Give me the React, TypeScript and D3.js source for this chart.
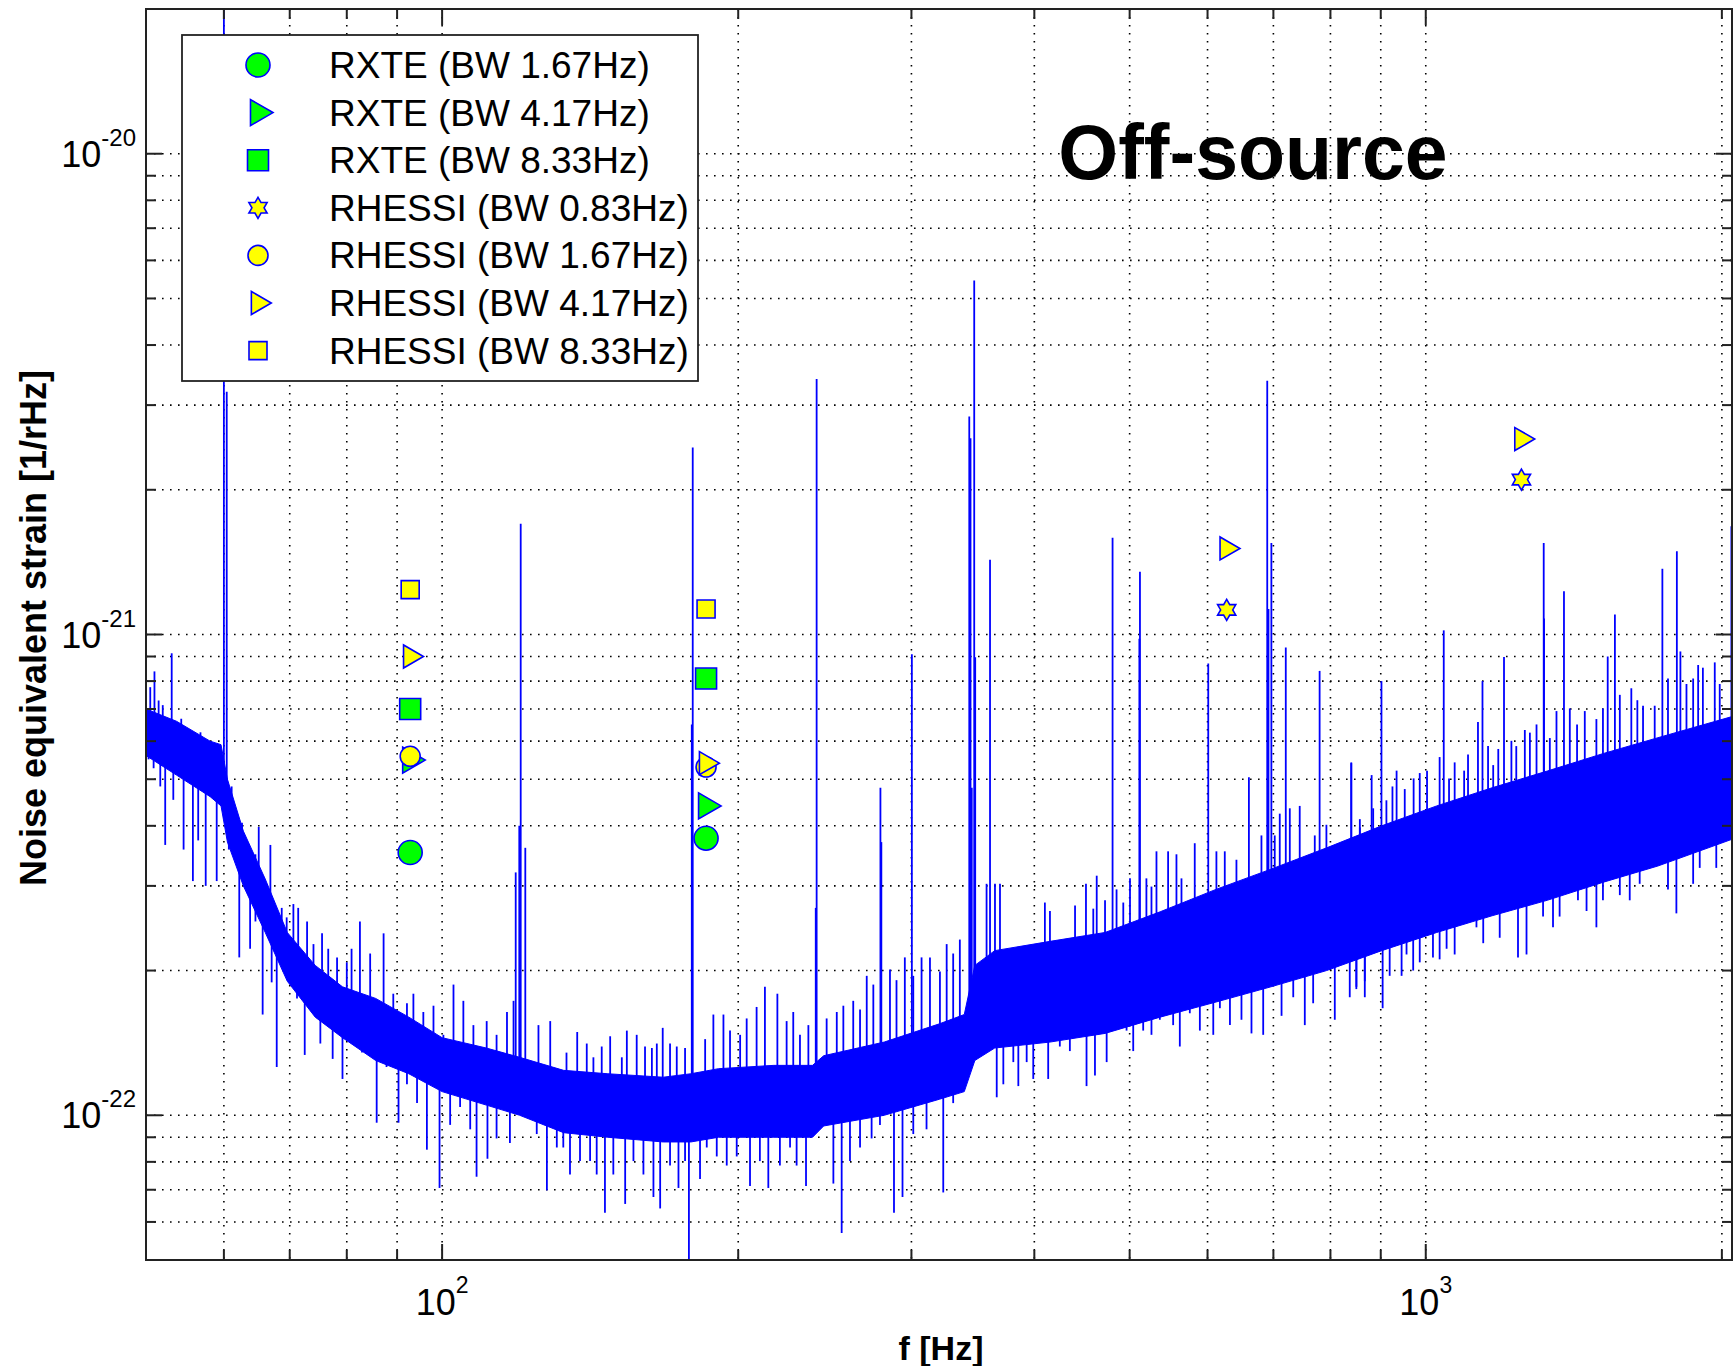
import React from "react";
import * as d3 from "d3";

// ---------- Data ----------
// Dense core of the off-source noise spectrum: frequency (Hz), upper and lower edge (1/rHz)
const bandFreq = [50, 53.7, 58.1, 59.6, 60.5, 62.8, 66.1, 69.6, 74.3, 79.2, 85.6, 92.5, 100, 110.9, 119.9, 132.9, 147.4, 167.8, 179, 191, 217.4, 238, 244.3, 281.5, 320.4, 339.5, 348, 364.6, 415, 472, 537, 612, 696, 793, 902, 1026, 1168, 1329, 1513, 1722, 2048];
const bandHigh = [7.0e-22, 6.6e-22, 6.0e-22, 5.9e-22, 5.0e-22, 3.9e-22, 3.1e-22, 2.4e-22, 2.05e-22, 1.85e-22, 1.75e-22, 1.6e-22, 1.45e-22, 1.38e-22, 1.32e-22, 1.24e-22, 1.22e-22, 1.2e-22, 1.22e-22, 1.25e-22, 1.27e-22, 1.27e-22, 1.33e-22, 1.42e-22, 1.55e-22, 1.62e-22, 2.05e-22, 2.2e-22, 2.3e-22, 2.4e-22, 2.65e-22, 2.95e-22, 3.25e-22, 3.6e-22, 4.0e-22, 4.4e-22, 4.8e-22, 5.2e-22, 5.65e-22, 6.1e-22, 6.75e-22];
const bandLow = [5.6e-22, 5.1e-22, 4.6e-22, 4.4e-22, 3.7e-22, 3.0e-22, 2.4e-22, 1.9e-22, 1.6e-22, 1.45e-22, 1.3e-22, 1.22e-22, 1.12e-22, 1.05e-22, 1.0e-22, 9.2e-23, 9.0e-23, 8.8e-23, 8.8e-23, 9.0e-23, 9.0e-23, 9.0e-23, 9.5e-23, 1.0e-22, 1.08e-22, 1.12e-22, 1.3e-22, 1.38e-22, 1.42e-22, 1.48e-22, 1.6e-22, 1.72e-22, 1.85e-22, 2.0e-22, 2.2e-22, 2.4e-22, 2.6e-22, 2.8e-22, 3.05e-22, 3.3e-22, 3.75e-22];

// Noise excursions above the dense core: frequency (Hz) and tip value
const upperFreq = [
  50.5, 51.0, 51.5, 52.0, 53.1, 53.8, 54.3, 55.0, 55.9, 56.8, 57.7, 58.6, 59.5, 60.5, 61.1, 61.8, 62.6, 63.6, 64.6, 65.1,
  66.1, 66.9, 67.9, 68.7, 69.5, 70.6, 71.4, 72.9, 74.0, 75.5, 76.6, 78.2, 80.0, 80.9, 82.5, 84.5, 87.2, 89.2, 92.1, 93.5,
  95.7, 98.0, 100.3, 102.7, 105.1, 107.6, 111.0, 113.6, 116.4, 118.2, 125.3, 128.8,
  133.8, 137.2, 140.3, 142.5, 145.3, 148.2, 152.3, 154.1, 157.7, 160.8, 163.4, 165.3, 167.6, 170.5, 173.2, 176.6, 185.1, 188.7,
  193.2, 196.2, 200.9, 204, 208.8, 212.9, 219.2, 224, 227.5, 231.1, 235.7, 246, 251.9, 255.8, 261.8, 266, 270.2, 274.4,
  285.3, 289.7, 295.4, 301.3, 307.2, 313.3, 320.7, 325.8, 330.8, 336,
  357.7, 364.8, 369.1, 410, 414.9, 440, 451.4, 459.2, 462.9, 472, 484.9, 492.6, 500.4, 520, 526.2, 532.4, 547.1, 557.9,
  564.5, 582.3, 612.6, 624.7, 642, 680.7, 702.2, 710.5, 727.4, 744.5, 771.2, 792.5, 857, 884.2,
  840, 857, 912, 925, 934, 952, 972, 986, 1003, 1033, 1056, 1070, 1094, 1104, 1130, 1157, 1171, 1185, 1222, 1236,
  1261, 1276, 1296, 1337, 1358, 1401, 1425, 1451, 1491, 1514, 1575, 1618, 1641, 1663, 1709, 1763, 1815, 1841, 1870, 1892,
  1913, 1967, 1990,
];
const upperVal = [
  7.77e-22, 8.38e-22, 7.29e-22, 7.13e-22, 9.14e-22, 6.26e-22, 6.68e-22, 5.87e-22, 6.0e-22, 6.26e-22, 5.62e-22, 5.16e-22, 5.74e-22, 4.94e-22, 4.83e-22, 3.98e-22, 4.06e-22, 3.65e-22, 3.49e-22, 3.98e-22,
  2.75e-22, 3.65e-22, 2.53e-22, 2.7e-22, 2.58e-22, 2.75e-22, 2.7e-22, 2.53e-22, 2.27e-22, 2.39e-22, 2.22e-22, 2.13e-22, 2.08e-22, 2.22e-22, 2.53e-22, 2.17e-22, 2.39e-22, 1.79e-22, 1.71e-22, 1.79e-22,
  1.64e-22, 1.69e-22, 1.47e-22, 1.87e-22, 1.73e-22, 1.54e-22, 1.57e-22, 1.47e-22, 1.64e-22, 1.73e-22, 1.54e-22, 1.57e-22,
  1.35e-22, 1.49e-22, 1.41e-22, 1.32e-22, 1.39e-22, 1.46e-22, 1.32e-22, 1.5e-22, 1.47e-22, 1.39e-22, 1.38e-22, 1.41e-22, 1.52e-22, 1.41e-22, 1.39e-22, 1.38e-22, 1.44e-22, 1.62e-22,
  1.62e-22, 1.5e-22, 1.47e-22, 1.59e-22, 1.68e-22, 1.85e-22, 1.79e-22, 1.57e-22, 1.64e-22, 1.47e-22, 1.54e-22, 1.59e-22, 1.64e-22, 1.69e-22, 1.73e-22, 1.66e-22, 1.95e-22, 1.87e-22,
  2.01e-22, 1.91e-22, 2.13e-22, 1.95e-22, 2.13e-22, 2.13e-22, 1.99e-22, 2.27e-22, 2.17e-22, 2.32e-22,
  3.03e-22, 3.03e-22, 3.03e-22, 2.77e-22, 2.66e-22, 2.73e-22, 3.03e-22, 2.69e-22, 3.15e-22, 2.8e-22, 2.95e-22, 2.77e-22, 3.11e-22, 3.11e-22, 2.99e-22, 3.54e-22, 3.54e-22, 3.49e-22,
  3.11e-22, 3.68e-22, 3.54e-22, 3.54e-22, 3.4e-22, 3.82e-22, 3.82e-22, 4.24e-22, 4.35e-22, 4.4e-22, 3.82e-22, 4.02e-22, 3.97e-22, 4.35e-22,
  5.42e-22, 4.13e-22, 4.52e-22, 4.83e-22, 5.21e-22, 4.77e-22, 5.02e-22, 5.15e-22, 5.21e-22, 5.56e-22, 5.02e-22, 5.42e-22, 5.21e-22, 5.63e-22, 6.58e-22, 5.86e-22, 5.35e-22, 5.78e-22, 6.01e-22, 5.86e-22,
  6.33e-22, 6.25e-22, 6.5e-22, 6.09e-22, 6.93e-22, 7.02e-22, 6.5e-22, 6.93e-22, 6.67e-22, 7.02e-22, 7.49e-22, 7.73e-22, 7.3e-22, 7.11e-22, 7.11e-22, 8.1e-22, 9.22e-22, 7.89e-22, 8.1e-22, 8.64e-22,
  8.53e-22, 8.75e-22, 7.89e-22,
];

// Noise excursions below the dense core: frequency (Hz) and tip value
const lowerFreq = [
  50.3, 50.9, 51.7, 52.3, 53.3, 54.6, 55.8, 56.5, 57.5, 59.0, 60.7, 62.2, 63.8, 64.6, 65.7, 67.1, 67.9, 69.5, 71.2, 72.5,
  73.7, 75.2, 77.4, 79.2, 81.3, 82.9, 85.8, 87.8, 90.3, 92.1, 94.3, 96.5, 99.4, 101.9, 104.3, 106.8, 108.4, 111.2, 113.6, 117.2,
  121.9, 124.8, 127.8, 130.8,
  132.8, 134.9, 138.1, 141.4, 143.6, 146.4, 149.3, 153.5, 156.5, 160.2, 164, 166.6, 170.5, 173.9, 176.6, 178.2, 182.9, 185.8, 190.2, 194.7,
  199.3, 205.6, 210.4, 214.6, 220.5, 225.8, 229.3, 234.4, 244.1, 249.9, 254.8, 259.8, 266, 273.3, 278.7, 288, 293.8, 301.3, 310.8, 323.2, 330.8,
  352.2, 360.6, 366.3, 372, 380.8, 385.3, 392.9, 399, 413.2, 424.6, 434.7, 441.6, 452, 461, 473.8, 496.4, 504.2, 516.1, 526.2, 536.6,
  553.6, 562.3, 575.6, 589.3, 608.1, 617.6, 632.3, 649.6, 665, 683.5, 713.5, 733.3, 753.4, 768.3, 808.2, 850.2, 867,
  837, 850, 867, 904, 919, 945, 956, 971, 986, 1017, 1033, 1050, 1070, 1104, 1126, 1144, 1166, 1189, 1241, 1266,
  1316, 1347, 1368, 1428, 1457, 1491, 1514, 1575, 1612, 1650, 1763, 1798, 1870, 1899, 1974, 2005,
];
const lowerVal = [
  5.5e-22, 5.27e-22, 4.83e-22, 3.65e-22, 4.53e-22, 3.57e-22, 3.07e-22, 3.73e-22, 3.0e-22, 3.07e-22, 3.57e-22, 2.13e-22, 2.22e-22, 2.53e-22, 1.62e-22, 1.89e-22, 1.26e-22, 2.03e-22, 1.75e-22, 1.335e-22,
  1.64e-22, 1.41e-22, 1.31e-22, 1.19e-22, 1.44e-22, 1.35e-22, 9.65e-23, 1.26e-22, 9.65e-23, 1.16e-22, 1.06e-22, 8.48e-23, 7.06e-23, 9.55e-23, 1.04e-22, 9.35e-23, 7.45e-23, 8.12e-23, 8.95e-23, 8.76e-23,
  1.06e-22, 9.14e-23, 6.98e-23, 8.57e-23,
  8.57e-23, 7.53e-23, 8.03e-23, 8.03e-23, 7.53e-23, 6.27e-23, 7.53e-23, 6.54e-23, 8.03e-23, 7.53e-23, 6.76e-23, 6.4e-23, 7.86e-23, 7.06e-23, 8.03e-23, 4.0e-23, 7.37e-23, 8.57e-23, 8.21e-23, 7.86e-23,
  8.21e-23, 7.13e-23, 8.03e-23, 7.06e-23, 7.86e-23, 8.57e-23, 7.86e-23, 7.13e-23, 9.55e-23, 7.21e-23, 5.69e-23, 8.03e-23, 8.57e-23, 8.95e-23, 9.55e-23, 6.27e-23, 6.76e-23, 9.14e-23, 9.35e-23, 6.91e-23, 1.06e-22,
  1.36e-22, 1.39e-22, 1.09e-22, 1.16e-22, 1.29e-22, 1.15e-22, 1.29e-22, 1.19e-22, 1.19e-22, 1.39e-22, 1.36e-22, 1.5e-22, 1.15e-22, 1.21e-22, 1.29e-22, 1.5e-22, 1.36e-22, 1.5e-22, 1.47e-22, 1.58e-22,
  1.54e-22, 1.39e-22, 1.63e-22, 1.5e-22, 1.47e-22, 1.67e-22, 1.54e-22, 1.58e-22, 1.48e-22, 1.47e-22, 1.61e-22, 1.76e-22, 1.54e-22, 1.71e-22, 1.58e-22, 1.85e-22, 1.76e-22,
  1.76e-22, 1.83e-22, 1.9e-22, 1.67e-22, 1.95e-22, 1.95e-22, 2.16e-22, 2.0e-22, 2.08e-22, 2.13e-22, 2.11e-22, 2.22e-22, 2.16e-22, 2.53e-22, 2.46e-22, 2.28e-22, 2.63e-22, 2.34e-22, 2.13e-22, 2.16e-22,
  2.59e-22, 2.46e-22, 2.59e-22, 2.8e-22, 2.66e-22, 2.46e-22, 2.8e-22, 2.87e-22, 2.8e-22, 3.03e-22, 2.95e-22, 2.63e-22, 3.03e-22, 3.27e-22, 3.27e-22, 3.72e-22,
];

// Narrow spectral lines: frequency (Hz) and peak value
const lineFreq = [60.0, 60.4, 118.8, 119.8, 120.2, 121.5, 179.4, 179.8, 239.8, 240.3, 279, 279.6, 300.3, 343.5, 344.5, 345.5, 347.5, 348.3, 360.6, 480.4, 511.5, 512.2, 601, 661, 690, 692, 696.7, 720.6, 780, 840, 881, 901.5, 1043, 1142, 1201, 1318, 1319, 1382, 1531, 1557, 1740, 1800, 2045];
const linePeak = [3e-20, 3.2e-21, 3.2e-22, 4.0e-22, 1.7e-21, 3.6e-22, 6.5e-22, 2.45e-21, 2.7e-22, 3.4e-21, 4.8e-22, 3.7e-22, 9.1e-22, 2.84e-21, 2.56e-21, 4.8e-22, 5.45e-21, 8.97e-22, 1.43e-21, 1.59e-21, 9.8e-22, 1.35e-21, 8.7e-22, 5.05e-22, 3.37e-21, 1.13e-21, 1.55e-21, 9.4e-22, 8.4e-22, 5.4e-22, 5.1e-22, 8.0e-22, 1.02e-21, 8.0e-22, 8.98e-22, 1.55e-21, 1.08e-21, 1.23e-21, 9.0e-22, 1.1e-21, 1.37e-21, 1.49e-21, 1.68e-21];

// Upper-limit markers
const rxteCircleFreq = [92.8, 185.5];
const rxteCircleVal = [3.52e-22, 3.77e-22];
const rxteTriFreq = [92.8, 185.5];
const rxteTriVal = [5.48e-22, 4.4e-22];
const rxteSquareFreq = [92.8, 185.5];
const rxteSquareVal = [7.0e-22, 8.1e-22];
const rhessiStarFreq = [627.5, 1251];
const rhessiStarVal = [1.125e-21, 2.1e-21];
const rhessiCircleFreq = [92.8, 185.5];
const rhessiCircleVal = [5.58e-22, 5.3e-22];
const rhessiTriFreq = [92.8, 185.5, 627.5, 1251];
const rhessiTriVal = [9.0e-22, 5.4e-22, 1.51e-21, 2.55e-21];
const rhessiSquareFreq = [92.8, 185.5];
const rhessiSquareVal = [1.24e-21, 1.13e-21];

const legendLabels = [
  "RXTE (BW 1.67Hz)",
  "RXTE (BW 4.17Hz)",
  "RXTE (BW 8.33Hz)",
  "RHESSI (BW 0.83Hz)",
  "RHESSI (BW 1.67Hz)",
  "RHESSI (BW 4.17Hz)",
  "RHESSI (BW 8.33Hz)",
];

const xMajor = [100, 1000];
const xMajorExp = ["2", "3"];
const yMajor = [1e-22, 1e-21, 1e-20];
const yMajorExp = ["-22", "-21", "-20"];

// ---------- Layout ----------
const W = 1733;
const H = 1366;
const X0 = 146;
const X1 = 1732;
const Y0 = 9;
const Y1 = 1260;
const FONT = "'Liberation Sans', Arial, Helvetica, sans-serif";
const BLUE = "#0000ff";
const GREEN = "#00ff00";
const YELLOW = "#ffff00";

type Shape = "circle" | "triangle" | "square" | "hexagram";

function markerPath(shape: Shape, s: number): string {
  if (shape === "triangle") {
    const h = s;
    const w = 0.866 * s;
    return `M${-w / 3},${-h / 2}L${-w / 3},${h / 2}L${(2 * w) / 3},0Z`;
  }
  if (shape === "square") {
    const a = s / 2;
    return `M${-a},${-a}L${a},${-a}L${a},${a}L${-a},${a}Z`;
  }
  if (shape === "hexagram") {
    const R = s / 2;
    const r = R / Math.sqrt(3);
    const pts: string[] = [];
    for (let k = 0; k < 12; k++) {
      const ang = -Math.PI / 2 + (k * Math.PI) / 6;
      const rad = k % 2 === 0 ? R : r;
      pts.push(`${(rad * Math.cos(ang)).toFixed(2)},${(rad * Math.sin(ang)).toFixed(2)}`);
    }
    return "M" + pts.join("L") + "Z";
  }
  const r = s / 2;
  return `M${r},0A${r},${r} 0 1,1 ${-r},0A${r},${r} 0 1,1 ${r},0Z`;
}

const series = [
  { shape: "circle" as Shape, fill: GREEN, size: 24, freq: rxteCircleFreq, val: rxteCircleVal },
  { shape: "triangle" as Shape, fill: GREEN, size: 26, freq: rxteTriFreq, val: rxteTriVal },
  { shape: "square" as Shape, fill: GREEN, size: 21, freq: rxteSquareFreq, val: rxteSquareVal },
  { shape: "hexagram" as Shape, fill: YELLOW, size: 21, freq: rhessiStarFreq, val: rhessiStarVal },
  { shape: "circle" as Shape, fill: YELLOW, size: 20, freq: rhessiCircleFreq, val: rhessiCircleVal },
  { shape: "triangle" as Shape, fill: YELLOW, size: 23, freq: rhessiTriFreq, val: rhessiTriVal },
  { shape: "square" as Shape, fill: YELLOW, size: 18, freq: rhessiSquareFreq, val: rhessiSquareVal },
];

export default function App() {
  const x = d3.scaleLog().domain([50, 2048]).range([X0, X1]);
  const y = d3.scaleLog().domain([5e-23, 2e-20]).range([Y1, Y0]);

  const area = d3
    .area<number>()
    .x((i) => x(bandFreq[i]))
    .y0((i) => y(bandLow[i]))
    .y1((i) => y(bandHigh[i]));
  const bandPath = area(bandFreq.map((_, i) => i)) || "";

  const bx = bandFreq.map((f) => x(f));
  const mid = d3
    .scaleLinear()
    .domain(bx)
    .range(bandFreq.map((_, i) => (y(bandHigh[i]) + y(bandLow[i])) / 2))
    .clamp(true);

  const xTicks = x.ticks().filter((t) => x(t) > X0 + 1 && x(t) < X1 - 1);
  const yTicks = y.ticks().filter((t) => y(t) > Y0 + 1 && y(t) < Y1 - 1);
  const isMajor = (t: number) => Math.abs(Math.log10(t) - Math.round(Math.log10(t))) < 1e-6;

  const dash = "1.6 6.4";

  const legendX = 182;
  const legendY = 35;
  const legendW = 516;
  const legendH = 346;
  const rowStep = 47.6;

  const spike = (f: number, v: number, key: string) => (
    <line key={key} x1={x(f)} x2={x(f)} y1={mid(x(f))} y2={y(v)} stroke={BLUE} strokeWidth={1.8} />
  );

  return (
    <svg
      width={W}
      height={H}
      viewBox={`0 0 ${W} ${H}`}
      style={{ position: "absolute", left: 0, top: 0, display: "block", background: "#fff" }}
      fontFamily={FONT}
    >
      <defs>
        <clipPath id="plotClip">
          <rect x={X0} y={Y0} width={X1 - X0} height={Y1 - Y0} />
        </clipPath>
      </defs>
      <rect x={0} y={0} width={W} height={H} fill="#fff" />

      {/* grid */}
      <g stroke="#000" strokeWidth={1.6} strokeDasharray={dash} fill="none">
        {xTicks.map((t, i) => (
          <line key={"gx" + i} x1={x(t)} x2={x(t)} y1={Y0} y2={Y1} />
        ))}
        {yTicks.map((t, i) => (
          <line key={"gy" + i} x1={X0} x2={X1} y1={y(t)} y2={y(t)} />
        ))}
      </g>

      {/* spectrum */}
      <g clipPath="url(#plotClip)">
        <path d={bandPath} fill={BLUE} stroke={BLUE} strokeWidth={1} />
        {upperFreq.map((f, i) => spike(f, upperVal[i], "u" + i))}
        {lowerFreq.map((f, i) => spike(f, lowerVal[i], "l" + i))}
        {lineFreq.map((f, i) => spike(f, linePeak[i], "ln" + i))}
      </g>

      {/* markers */}
      <g>
        {series.map((s, si) =>
          s.freq.map((f, i) => (
            <path
              key={"m" + si + "-" + i}
              d={markerPath(s.shape, s.size)}
              transform={`translate(${x(f)},${y(s.val[i])})`}
              fill={s.fill}
              stroke={BLUE}
              strokeWidth={1.6}
            />
          ))
        )}
      </g>

      {/* axes frame and ticks */}
      <rect x={X0} y={Y0} width={X1 - X0} height={Y1 - Y0} fill="none" stroke="#222" strokeWidth={2} />
      <g stroke="#222" strokeWidth={2}>
        {xTicks.map((t, i) => {
          const len = isMajor(t) ? 16 : 10;
          return (
            <g key={"tx" + i}>
              <line x1={x(t)} x2={x(t)} y1={Y1} y2={Y1 - len} />
              <line x1={x(t)} x2={x(t)} y1={Y0} y2={Y0 + len} />
            </g>
          );
        })}
        {yTicks.map((t, i) => {
          const len = isMajor(t) ? 16 : 10;
          return (
            <g key={"ty" + i}>
              <line x1={X0} x2={X0 + len} y1={y(t)} y2={y(t)} />
              <line x1={X1} x2={X1 - len} y1={y(t)} y2={y(t)} />
            </g>
          );
        })}
      </g>

      {/* tick labels */}
      <g fill="#000">
        {xMajor.map((t, i) => (
          <text key={"lx" + i} x={x(t)} y={1315} textAnchor="middle" fontSize={36}>
            10
            <tspan fontSize={23} dy={-22}>
              {xMajorExp[i]}
            </tspan>
          </text>
        ))}
        {yMajor.map((t, i) => (
          <text key={"ly" + i} x={136} y={y(t) + 13} textAnchor="end" fontSize={36}>
            10
            <tspan fontSize={24} dy={-21}>
              {yMajorExp[i]}
            </tspan>
          </text>
        ))}
      </g>

      {/* axis titles */}
      <text x={941} y={1360} textAnchor="middle" fontSize={34} fontWeight="bold">
        f [Hz]
      </text>
      <text transform={`translate(46,628) rotate(-90)`} textAnchor="middle" fontSize={36} fontWeight="bold">
        Noise equivalent strain [1/rHz]
      </text>

      {/* annotation */}
      <text x={1253} y={179} textAnchor="middle" fontSize={77} fontWeight="bold">
        Off-source
      </text>

      {/* legend */}
      <g>
        <rect x={legendX} y={legendY} width={legendW} height={legendH} fill="#fff" stroke="#222" strokeWidth={1.8} />
        {series.map((s, i) => {
          const cy = legendY + 30 + i * rowStep;
          return (
            <g key={"lg" + i}>
              <path
                d={markerPath(s.shape, s.size)}
                transform={`translate(${258},${cy})`}
                fill={s.fill}
                stroke={BLUE}
                strokeWidth={1.6}
              />
              <text x={329} y={cy + 13} fontSize={37} fill="#000">
                {legendLabels[i]}
              </text>
            </g>
          );
        })}
      </g>
    </svg>
  );
}
